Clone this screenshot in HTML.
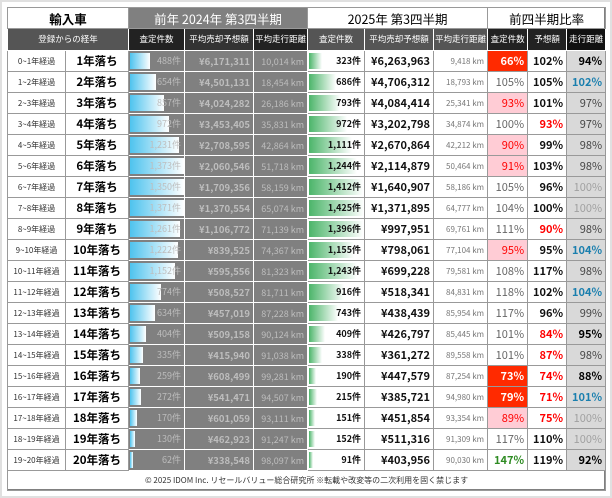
<!DOCTYPE html>
<html><head><meta charset="utf-8">
<style>
*{margin:0;padding:0;box-sizing:border-box}
html,body{width:612px;height:498px;background:#fff;overflow:hidden}
body{border:2px solid #e0e0e0;position:relative;font-family:"Noto Sans CJK JP","Liberation Sans",sans-serif}
#p{position:absolute;left:5px;top:5px;width:598px;height:483px;border:1px solid #808080;background:#fff}
table{border-collapse:collapse;table-layout:fixed;width:598px;position:absolute;left:-1px;top:-1px}
td{border:1px solid #999;height:21px;padding:0 3px;white-space:nowrap;overflow:hidden;position:relative;font-size:11px;line-height:19px;vertical-align:middle}
.h1{height:21px;font-size:12.5px;text-align:center}
.h2{height:22px;font-size:8.5px;color:#fff;text-align:center;border-color:#fff;padding:0}
.yr{font-size:8px;color:#333;text-align:center;padding:0}
.lb{font-size:11.5px;font-weight:bold;text-align:center;color:#000}
.g{background:#808080;color:#bdbdbd;border-color:#fff;text-align:right;font-size:9px}
.gp{font-size:9.5px;font-weight:bold}
.b{position:absolute;left:1px;top:2px;bottom:2px;background:linear-gradient(to right,#4ec3ee,#fff)}
.gb{position:absolute;left:1px;top:2px;bottom:2px;background:linear-gradient(to right,#4cb56a,#fff)}
.t{position:relative;z-index:1;top:-1px}
.c{text-align:right;font-weight:bold;font-size:9px;color:#111}
.pr{text-align:right;font-weight:bold;font-size:11px;color:#111}
.km{text-align:right;font-size:8px;color:#777}
.r{text-align:right;font-size:11px;color:#666}
.rb{background:#ff2a00;color:#fff;font-weight:bold}
.pk{background:#ffccd5;color:#f00}
.gr{color:#2e8b22;font-weight:bold}
.p{text-align:right;font-size:11px;font-weight:bold;color:#111}
.red{color:#f00}
.k{text-align:right;font-size:11px;background:#d9d9d9;color:#444}
.kb{color:#000;font-weight:bold}
.kl{color:#a0a0a0}
.kbl{color:#1a7fae;font-weight:bold}
.ft{height:20px;text-align:center;font-size:8px;color:#333}
</style></head><body><div id="p">
<table>
<colgroup><col style="width:58px"><col style="width:63px"><col style="width:56px"><col style="width:69px"><col style="width:54px"><col style="width:57px"><col style="width:69px"><col style="width:54px"><col style="width:40px"><col style="width:39px"><col style="width:39px"></colgroup>
<tr><td class="h1" colspan="2" style="font-weight:bold">輸入車</td><td class="h1" colspan="3" style="background:#808080;color:#fff">前年 2024年 第3四半期</td><td class="h1" colspan="3">2025年 第3四半期</td><td class="h1" colspan="3">前四半期比率</td></tr>
<tr><td class="h2" colspan="2" style="background:#555">登録からの経年</td><td class="h2" style="background:#222">査定件数</td><td class="h2" style="background:#333">平均売却予想額</td><td class="h2" style="background:#222">平均走行距離</td><td class="h2" style="background:#555">査定件数</td><td class="h2" style="background:#555">平均売却予想額</td><td class="h2" style="background:#555">平均走行距離</td><td class="h2" style="background:#222">査定件数</td><td class="h2" style="background:#222">予想額</td><td class="h2" style="background:#111">走行距離</td></tr>
<tr><td class="yr">0~1年経過</td><td class="lb">1年落ち</td><td class="g"><div class="b" style="width:20px"></div><span class="t">488件</span></td><td class="g gp">¥6,171,311</td><td class="g">10,014 km</td><td class="c"><div class="gb" style="width:13px"></div><span class="t">323件</span></td><td class="pr">¥6,263,963</td><td class="km">9,418 km</td><td class="r rb">66%</td><td class="p">102%</td><td class="k kb">94%</td></tr>
<tr><td class="yr">1~2年経過</td><td class="lb">2年落ち</td><td class="g"><div class="b" style="width:26px"></div><span class="t">654件</span></td><td class="g gp">¥4,501,131</td><td class="g">18,454 km</td><td class="c"><div class="gb" style="width:27px"></div><span class="t">686件</span></td><td class="pr">¥4,706,312</td><td class="km">18,793 km</td><td class="r">105%</td><td class="p">105%</td><td class="k kbl">102%</td></tr>
<tr><td class="yr">2~3年経過</td><td class="lb">3年落ち</td><td class="g"><div class="b" style="width:34px"></div><span class="t">857件</span></td><td class="g gp">¥4,024,282</td><td class="g">26,186 km</td><td class="c"><div class="gb" style="width:31px"></div><span class="t">793件</span></td><td class="pr">¥4,084,414</td><td class="km">25,341 km</td><td class="r pk">93%</td><td class="p">101%</td><td class="k">97%</td></tr>
<tr><td class="yr">3~4年経過</td><td class="lb">4年落ち</td><td class="g"><div class="b" style="width:39px"></div><span class="t">972件</span></td><td class="g gp">¥3,453,405</td><td class="g">35,831 km</td><td class="c"><div class="gb" style="width:38px"></div><span class="t">972件</span></td><td class="pr">¥3,202,798</td><td class="km">34,874 km</td><td class="r">100%</td><td class="p red">93%</td><td class="k">97%</td></tr>
<tr><td class="yr">4~5年経過</td><td class="lb">5年落ち</td><td class="g"><div class="b" style="width:49px"></div><span class="t">1,231件</span></td><td class="g gp">¥2,708,595</td><td class="g">42,864 km</td><td class="c"><div class="gb" style="width:43px"></div><span class="t">1,111件</span></td><td class="pr">¥2,670,864</td><td class="km">42,212 km</td><td class="r pk">90%</td><td class="p">99%</td><td class="k">98%</td></tr>
<tr><td class="yr">5~6年経過</td><td class="lb">6年落ち</td><td class="g"><div class="b" style="width:54px"></div><span class="t">1,373件</span></td><td class="g gp">¥2,060,546</td><td class="g">51,718 km</td><td class="c"><div class="gb" style="width:48px"></div><span class="t">1,244件</span></td><td class="pr">¥2,114,879</td><td class="km">50,464 km</td><td class="r pk">91%</td><td class="p">103%</td><td class="k">98%</td></tr>
<tr><td class="yr">6~7年経過</td><td class="lb">7年落ち</td><td class="g"><div class="b" style="width:54px"></div><span class="t">1,350件</span></td><td class="g gp">¥1,709,356</td><td class="g">58,159 km</td><td class="c"><div class="gb" style="width:54px"></div><span class="t">1,412件</span></td><td class="pr">¥1,640,907</td><td class="km">58,186 km</td><td class="r">105%</td><td class="p">96%</td><td class="k kl">100%</td></tr>
<tr><td class="yr">7~8年経過</td><td class="lb">8年落ち</td><td class="g"><div class="b" style="width:54px"></div><span class="t">1,371件</span></td><td class="g gp">¥1,370,554</td><td class="g">65,074 km</td><td class="c"><div class="gb" style="width:55px"></div><span class="t">1,425件</span></td><td class="pr">¥1,371,895</td><td class="km">64,777 km</td><td class="r">104%</td><td class="p">100%</td><td class="k kl">100%</td></tr>
<tr><td class="yr">8~9年経過</td><td class="lb">9年落ち</td><td class="g"><div class="b" style="width:50px"></div><span class="t">1,261件</span></td><td class="g gp">¥1,106,772</td><td class="g">71,139 km</td><td class="c"><div class="gb" style="width:54px"></div><span class="t">1,396件</span></td><td class="pr">¥997,951</td><td class="km">69,761 km</td><td class="r">111%</td><td class="p red">90%</td><td class="k">98%</td></tr>
<tr><td class="yr">9~10年経過</td><td class="lb">10年落ち</td><td class="g"><div class="b" style="width:48px"></div><span class="t">1,222件</span></td><td class="g gp">¥839,525</td><td class="g">74,367 km</td><td class="c"><div class="gb" style="width:45px"></div><span class="t">1,155件</span></td><td class="pr">¥798,061</td><td class="km">77,104 km</td><td class="r pk">95%</td><td class="p">95%</td><td class="k kbl">104%</td></tr>
<tr><td class="yr">10~11年経過</td><td class="lb">11年落ち</td><td class="g"><div class="b" style="width:45px"></div><span class="t">1,152件</span></td><td class="g gp">¥595,556</td><td class="g">81,323 km</td><td class="c"><div class="gb" style="width:48px"></div><span class="t">1,243件</span></td><td class="pr">¥699,228</td><td class="km">79,581 km</td><td class="r">108%</td><td class="p">117%</td><td class="k">98%</td></tr>
<tr><td class="yr">11~12年経過</td><td class="lb">12年落ち</td><td class="g"><div class="b" style="width:31px"></div><span class="t">774件</span></td><td class="g gp">¥508,527</td><td class="g">81,711 km</td><td class="c"><div class="gb" style="width:35px"></div><span class="t">916件</span></td><td class="pr">¥518,341</td><td class="km">84,831 km</td><td class="r">118%</td><td class="p">102%</td><td class="k kbl">104%</td></tr>
<tr><td class="yr">12~13年経過</td><td class="lb">13年落ち</td><td class="g"><div class="b" style="width:25px"></div><span class="t">634件</span></td><td class="g gp">¥457,019</td><td class="g">87,228 km</td><td class="c"><div class="gb" style="width:29px"></div><span class="t">743件</span></td><td class="pr">¥438,439</td><td class="km">85,954 km</td><td class="r">117%</td><td class="p">96%</td><td class="k">99%</td></tr>
<tr><td class="yr">13~14年経過</td><td class="lb">14年落ち</td><td class="g"><div class="b" style="width:16px"></div><span class="t">404件</span></td><td class="g gp">¥509,158</td><td class="g">90,124 km</td><td class="c"><div class="gb" style="width:16px"></div><span class="t">409件</span></td><td class="pr">¥426,797</td><td class="km">85,445 km</td><td class="r">101%</td><td class="p red">84%</td><td class="k kb">95%</td></tr>
<tr><td class="yr">14~15年経過</td><td class="lb">15年落ち</td><td class="g"><div class="b" style="width:13px"></div><span class="t">335件</span></td><td class="g gp">¥415,940</td><td class="g">91,038 km</td><td class="c"><div class="gb" style="width:13px"></div><span class="t">338件</span></td><td class="pr">¥361,272</td><td class="km">89,558 km</td><td class="r">101%</td><td class="p red">87%</td><td class="k">98%</td></tr>
<tr><td class="yr">15~16年経過</td><td class="lb">16年落ち</td><td class="g"><div class="b" style="width:10px"></div><span class="t">259件</span></td><td class="g gp">¥608,499</td><td class="g">99,281 km</td><td class="c"><div class="gb" style="width:7px"></div><span class="t">190件</span></td><td class="pr">¥447,579</td><td class="km">87,254 km</td><td class="r rb">73%</td><td class="p red">74%</td><td class="k kb">88%</td></tr>
<tr><td class="yr">16~17年経過</td><td class="lb">17年落ち</td><td class="g"><div class="b" style="width:11px"></div><span class="t">272件</span></td><td class="g gp">¥541,471</td><td class="g">94,507 km</td><td class="c"><div class="gb" style="width:8px"></div><span class="t">215件</span></td><td class="pr">¥385,721</td><td class="km">94,980 km</td><td class="r rb">79%</td><td class="p red">71%</td><td class="k kbl">101%</td></tr>
<tr><td class="yr">17~18年経過</td><td class="lb">18年落ち</td><td class="g"><div class="b" style="width:7px"></div><span class="t">170件</span></td><td class="g gp">¥601,059</td><td class="g">93,111 km</td><td class="c"><div class="gb" style="width:6px"></div><span class="t">151件</span></td><td class="pr">¥451,854</td><td class="km">93,354 km</td><td class="r pk">89%</td><td class="p red">75%</td><td class="k kl">100%</td></tr>
<tr><td class="yr">18~19年経過</td><td class="lb">19年落ち</td><td class="g"><div class="b" style="width:5px"></div><span class="t">130件</span></td><td class="g gp">¥462,923</td><td class="g">91,247 km</td><td class="c"><div class="gb" style="width:6px"></div><span class="t">152件</span></td><td class="pr">¥511,316</td><td class="km">91,309 km</td><td class="r">117%</td><td class="p">110%</td><td class="k kl">100%</td></tr>
<tr><td class="yr">19~20年経過</td><td class="lb">20年落ち</td><td class="g"><div class="b" style="width:3px"></div><span class="t">62件</span></td><td class="g gp">¥338,548</td><td class="g">98,097 km</td><td class="c"><div class="gb" style="width:4px"></div><span class="t">91件</span></td><td class="pr">¥403,956</td><td class="km">90,030 km</td><td class="r gr">147%</td><td class="p">119%</td><td class="k kb">92%</td></tr>
<tr><td class="ft" colspan="11">© 2025 IDOM Inc. リセールバリュー総合研究所 ※転載や改変等の二次利用を固く禁じます</td></tr>
</table></div></body></html>
